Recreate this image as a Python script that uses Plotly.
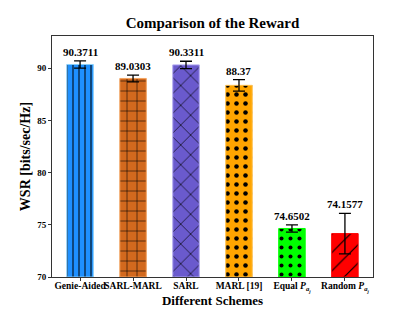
import plotly.graph_objects as go

categories = ["Genie-Aided", "SARL-MARL", "SARL", "MARL [19]",
              "Equal <i>P</i><sub><i>a<sub>j</sub></i></sub>",
              "Random <i>P</i><sub><i>a<sub>j</sub></i></sub>"]
values = [90.3711, 89.0303, 90.3311, 88.37, 74.6502, 74.1577]
errors = [0.35, 0.32, 0.35, 0.55, 0.35, 1.95]
labels = ["90.3711", "89.0303", "90.3311", "88.37", "74.6502", "74.1577"]
yticks = [70, 75, 80, 85, 90]

colors = ["#1E90FF", "#D2691E", "#6A5ACD", "#FFA500", "#00FF00", "#FF0000"]
edges = ["#87CEFA", "#F4A460", "#B0A8F0", "#FFC04D", "#00FF00", "#FF0000"]
shapes = ["|", "+", "x", ".", ".", "/"]
sizes = [6, 10, 14, 9, 9, 13]
solid = [0.17, 0.11, 0.09, 0.2, 0.16, 0.09]

font = "Liberation Serif"
x = list(range(len(categories)))

W, H = 407, 303  # page body adds an 8px offset

fig = go.Figure()
for i in x:
    fig.add_trace(go.Bar(
        x=[x[i]], y=[values[i] - 70], base=70, width=0.5,
        marker=dict(color=colors[i], line=dict(color=edges[i], width=1),
                    pattern=dict(shape=shapes[i], size=sizes[i], solidity=solid[i],
                                 fgcolor="black", bgcolor=colors[i], fgopacity=1,
                                 fillmode="replace")),
        error_y=dict(type="data", array=[errors[i]], color="black", thickness=1.3, width=6),
        showlegend=False,
    ))

for xi, v, e, t in zip(x, values, errors, labels):
    fig.add_annotation(x=xi, y=v + e, text="<b>%s</b>" % t, showarrow=False,
                       yanchor="bottom", yshift=1,
                       font=dict(family=font, size=11, color="black"))

fig.update_layout(
    width=W, height=H,
    margin=dict(l=44, r=42, t=28, b=34),
    paper_bgcolor="white", plot_bgcolor="white",
    barmode="overlay",
    title=dict(text="<b>Comparison of the Reward</b>", x=(44 + (W - 42)) / 2 / W,
               xanchor="center", y=1 - 15 / H, yanchor="middle", yref="container",
               font=dict(family=font, size=15, color="black")),
    font=dict(family=font, color="black"),
)
fig.update_xaxes(
    tickvals=x, ticktext=["<b>%s</b>" % c for c in categories], tickangle=0,
    automargin=False, ticklabelstandoff=-3,
    range=[-0.53, 5.53], showline=True, linecolor="#333", linewidth=1, mirror=True,
    ticks="outside", ticklen=3, tickcolor="#333", showgrid=False,
    tickfont=dict(family=font, size=9.5),
    title=dict(text="<b>Different Schemes</b>", font=dict(family=font, size=13), standoff=3),
)
fig.update_yaxes(
    tickvals=yticks, ticktext=["<b>%d</b>" % t for t in yticks], automargin=False,
    range=[70, 93.1], showline=True, linecolor="#333", linewidth=1, mirror=True,
    ticks="outside", ticklen=3, tickcolor="#333", showgrid=False, zeroline=False,
    tickfont=dict(family=font, size=9),
    title=dict(text="<b>WSR [bits/sec/Hz]</b>", font=dict(family=font, size=14), standoff=3),
)

fig.write_html("out.html")
